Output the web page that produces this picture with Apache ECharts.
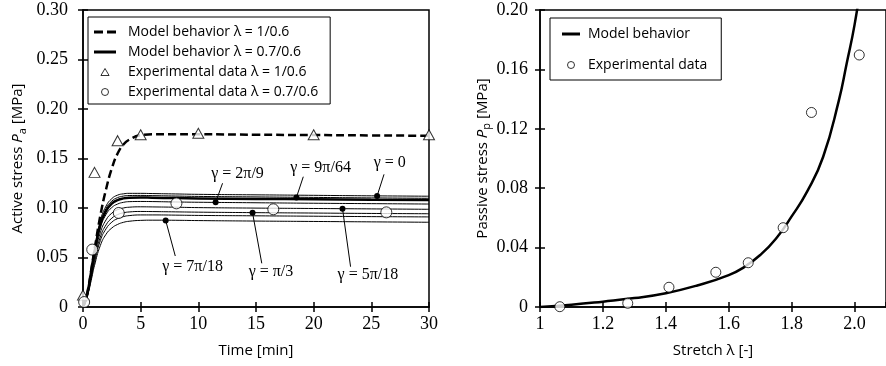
<!DOCTYPE html>
<html>
<head>
<meta charset="utf-8">
<script src="https://cdn.jsdelivr.net/npm/echarts@6/dist/echarts.min.js"></script>
<style>html,body{margin:0;padding:0;background:#fff;}</style>
</head>
<body>
<div id="main" style="width:886px;height:366px;"></div>
<script>
// ---- left panel: active stress vs time ----
var timeMin = [0, 0.25, 0.5, 0.75, 1, 1.5, 2, 2.5, 3, 3.5, 4, 5, 6, 8, 10, 15, 20, 25, 30];

var modelDashed = [0, 0.008, 0.022, 0.040, 0.058, 0.092, 0.119, 0.140, 0.155, 0.164, 0.169, 0.1735, 0.1745, 0.1745, 0.1745, 0.174, 0.1737, 0.1733, 0.173];

var curveGamma0    = [0, 0.008, 0.022, 0.040, 0.058, 0.087, 0.102, 0.1095, 0.113, 0.1143, 0.1148, 0.1148, 0.1146, 0.1142, 0.1138, 0.1133, 0.1128, 0.1123, 0.1119];
var curveGamma9    = [0, 0.008, 0.022, 0.040, 0.057, 0.085, 0.0995, 0.107, 0.1105, 0.112, 0.1126, 0.1127, 0.1125, 0.1121, 0.1117, 0.1112, 0.1107, 0.1102, 0.1098];
var curveModel07   = [0, 0.008, 0.021, 0.039, 0.056, 0.083, 0.097, 0.1045, 0.108, 0.1097, 0.1104, 0.1106, 0.1104, 0.110, 0.1097, 0.1092, 0.1088, 0.1084, 0.108];
var curveGamma2pi9 = [0, 0.007, 0.020, 0.037, 0.054, 0.080, 0.0935, 0.1005, 0.104, 0.1057, 0.1064, 0.1066, 0.1065, 0.1061, 0.1058, 0.1053, 0.1048, 0.1044, 0.104];
var curveGamma5pi18 = [0, 0.007, 0.019, 0.035, 0.051, 0.075, 0.088, 0.0948, 0.0983, 0.100, 0.1008, 0.1012, 0.1011, 0.1008, 0.1004, 0.0999, 0.0995, 0.0991, 0.0987];
var curveGammaPi3  = [0, 0.007, 0.018, 0.033, 0.048, 0.0705, 0.083, 0.0897, 0.0933, 0.0951, 0.096, 0.0965, 0.0964, 0.0961, 0.0958, 0.0953, 0.0949, 0.0945, 0.0942];
var curveExtra     = [0, 0.006, 0.017, 0.031, 0.045, 0.067, 0.079, 0.0857, 0.0893, 0.0913, 0.0923, 0.093, 0.093, 0.0928, 0.0925, 0.0921, 0.0917, 0.0913, 0.091];
var curveGamma7pi18 = [0, 0.006, 0.016, 0.029, 0.042, 0.062, 0.0735, 0.0798, 0.0834, 0.0855, 0.0866, 0.0875, 0.0877, 0.0876, 0.0873, 0.0868, 0.0864, 0.086, 0.0856];

var expTriangle = [[0, 0.012], [1, 0.136], [3, 0.168], [5, 0.174], [10, 0.1755], [20, 0.174], [30, 0.174]];
var expCircle = [[0.1, 0.005], [0.8, 0.058], [3.1, 0.095], [8.1, 0.1047], [16.5, 0.0987], [26.3, 0.0956]];

// gamma annotations: [dot t, dot value, leader end t, leader end value, label t, label value]
var gammaNotes = [
  [25.5, 0.1122, 26.1, 0.134, 26.6, 0.1455],
  [18.5, 0.1105, 19.1, 0.1316, 20.6, 0.1407],
  [11.5, 0.1057, 12.1, 0.125, 13.4, 0.135],
  [7.17, 0.0874, 8.0, 0.0515, 9.5, 0.0407],
  [14.7, 0.0952, 15.5, 0.0441, 16.3, 0.0357],
  [22.5, 0.0993, 23.2, 0.0407, 24.7, 0.0323]
];
var gammaLabels = ['γ = 0', 'γ = 9π/64', 'γ = 2π/9', 'γ = 7π/18', 'γ = π/3', 'γ = 5π/18'];

// ---- right panel: passive stress vs stretch ----
var stretch = [1, 1.1, 1.2, 1.3, 1.4, 1.5, 1.6, 1.65, 1.7, 1.75, 1.8, 1.85, 1.9, 1.95, 1.975, 2.0, 2.025];
var passiveModel = [0, 0.0015, 0.0036, 0.006, 0.0093, 0.0145, 0.0215, 0.027, 0.035, 0.046, 0.061, 0.078, 0.101, 0.139, 0.164, 0.19, 0.224];
var passiveExp = [[1.063, 0.0002], [1.279, 0.0025], [1.41, 0.0133], [1.559, 0.0234], [1.662, 0.0298], [1.773, 0.0534], [1.863, 0.131], [2.015, 0.1697]];

function pairs(xs, ys) {
  return xs.map(function (x, i) { return [x, ys[i]]; });
}

var serif = 'Liberation Serif';
var sans = 'Open Sans';
var black = '#000';

function valueAxis(o) {
  var a = {
    type: 'value',
    gridIndex: o.grid,
    min: o.min, max: o.max, interval: o.interval,
    splitLine: {show: false},
    axisLine: {show: true, onZero: false, lineStyle: {color: black, width: 1.5}},
    axisTick: {show: true, inside: false, length: 5, lineStyle: {color: black, width: 1.5}},
    axisLabel: {show: true, color: black, fontFamily: serif, fontSize: 18, margin: o.margin, formatter: o.fmt, showMaxLabel: o.showMax !== false},
    z: 5
  };
  if (o.inner) {
    a.axisLine = {show: false, onZero: false};
    a.axisTick = {show: true, inside: true, length: 5, lineStyle: {color: black, width: 1.5}};
    a.axisLabel = {show: false};
  }
  if (o.position) a.position = o.position;
  if (o.name) {
    a.name = o.name;
    a.nameLocation = 'middle';
    a.nameGap = o.nameGap;
    a.nameTextStyle = o.nameStyle;
  }
  return a;
}

function nameRich() {
  return {
    color: black,
    rich: {
      t: {fontFamily: sans, fontSize: 15, lineHeight: 20, color: black},
      p: {fontFamily: sans, fontSize: 15, fontStyle: 'italic', lineHeight: 20, color: black},
      s: {fontFamily: sans, fontSize: 11, lineHeight: 10, verticalAlign: 'bottom', color: black}
    }
  };
}

var fmtStress = function (v) { return v === 0 ? '0' : v.toFixed(2); };
var fmtStretch = function (v) { return Math.abs(v - 1) < 1e-9 ? '1' : v.toFixed(1); };

function thin(name, data) {
  return {
    name: name, type: 'line', xAxisIndex: 0, yAxisIndex: 0,
    data: pairs(timeMin, data), showSymbol: false, symbol: 'none', smooth: true,
    lineStyle: {color: black, width: 1}, z: 2, silent: true
  };
}

var openItem = {color: '#fff', borderColor: black, borderWidth: 1};
var solidItem = {color: black, borderWidth: 0};

var myChart = echarts.init(document.getElementById('main'));

var option = {
  animation: false,
  backgroundColor: '#fff',
  grid: [
    {left: 83, top: 10, width: 346, height: 297, show: true, borderColor: black, borderWidth: 1.5},
    {left: 540, top: 10, width: 348, height: 297, show: true, borderColor: black, borderWidth: 1.5}
  ],
  legend: [
    {
      orient: 'vertical', left: 88, top: 17,
      padding: [8, 12, 5, 6], itemGap: 6, itemWidth: 22, itemHeight: 7,
      borderColor: black, borderWidth: 1, backgroundColor: '#fff',
      textStyle: {fontFamily: sans, fontSize: 14, color: black, padding: [0, 0, 0, 7]},
      selectedMode: false,
      data: [
        {name: 'Model behavior λ = 1/0.6', icon: 'path://M0,0H9V3H0Z M13,0H22V3H13Z', itemStyle: solidItem},
        {name: 'Model behavior λ = 0.7/0.6', icon: 'path://M0,0H22V3H0Z', itemStyle: solidItem},
        {name: 'Experimental data λ = 1/0.6', icon: 'path://M3.5,0L7,6H0Z', itemStyle: openItem},
        {name: 'Experimental data λ = 0.7/0.6', icon: 'circle', itemStyle: openItem}
      ]
    },
    {
      orient: 'vertical', left: 550, top: 18,
      padding: [9, 14, 8, 12], itemGap: 17, itemWidth: 18, itemHeight: 7,
      borderColor: black, borderWidth: 1, backgroundColor: '#fff',
      textStyle: {fontFamily: sans, fontSize: 14, color: black, padding: [0, 0, 0, 3]},
      selectedMode: false,
      data: [
        {name: 'Model behavior', icon: 'path://M0,0H18V3H0Z', itemStyle: solidItem},
        {name: 'Experimental data', icon: 'circle', itemStyle: openItem}
      ]
    }
  ],
  xAxis: [
    valueAxis({grid: 0, min: 0, max: 30, interval: 5, margin: 8, name: 'Time [min]', nameGap: 36,
      nameStyle: {fontFamily: sans, fontSize: 15, color: black}}),
    valueAxis({grid: 0, min: 0, max: 30, interval: 5, inner: true, position: 'bottom'}),
    valueAxis({grid: 1, min: 1, max: 2.1, interval: 0.2, margin: 8, fmt: fmtStretch, showMax: false,
      name: 'Stretch λ [-]', nameGap: 36, nameStyle: {fontFamily: sans, fontSize: 15, color: black}}),
    valueAxis({grid: 1, min: 1, max: 2.1, interval: 0.2, inner: true, position: 'bottom'})
  ],
  yAxis: [
    valueAxis({grid: 0, min: 0, max: 0.3, interval: 0.05, margin: 15, fmt: fmtStress,
      name: '{t|Active stress }{p|P}{s|a}{t| [MPa]}', nameGap: 55, nameStyle: nameRich()}),
    valueAxis({grid: 0, min: 0, max: 0.3, interval: 0.05, inner: true, position: 'left'}),
    valueAxis({grid: 1, min: 0, max: 0.2, interval: 0.04, margin: 12, fmt: fmtStress,
      name: '{t|Passive stress }{p|P}{s|p}{t| [MPa]}', nameGap: 40, nameStyle: nameRich()}),
    valueAxis({grid: 1, min: 0, max: 0.2, interval: 0.04, inner: true, position: 'left'})
  ],
  series: [
    thin('γ = 0', curveGamma0),
    thin('γ = 9π/64', curveGamma9),
    thin('γ = 2π/9', curveGamma2pi9),
    thin('γ = 5π/18', curveGamma5pi18),
    thin('γ = π/3', curveGammaPi3),
    thin('other', curveExtra),
    thin('γ = 7π/18', curveGamma7pi18),
    {
      name: 'Model behavior λ = 0.7/0.6', type: 'line', xAxisIndex: 0, yAxisIndex: 0,
      data: pairs(timeMin, curveModel07), symbol: 'none', smooth: true,
      lineStyle: {color: black, width: 2.5}, z: 3
    },
    {
      name: 'Model behavior λ = 1/0.6', type: 'line', xAxisIndex: 0, yAxisIndex: 0,
      data: pairs(timeMin, modelDashed), symbol: 'none', smooth: true,
      lineStyle: {color: black, width: 2.5, type: [8, 4]}, z: 3
    },
    {
      name: 'γ labels', type: 'custom', xAxisIndex: 0, yAxisIndex: 0, z: 4, silent: true,
      data: gammaNotes,
      renderItem: function (params, api) {
        var d = api.coord([api.value(0), api.value(1)]);
        var e = api.coord([api.value(2), api.value(3)]);
        var l = api.coord([api.value(4), api.value(5)]);
        return {
          type: 'group',
          children: [
            {type: 'line', shape: {x1: d[0], y1: d[1], x2: e[0], y2: e[1]}, style: {stroke: black, lineWidth: 1}},
            {type: 'circle', shape: {cx: d[0], cy: d[1], r: 3}, style: {fill: black}},
            {type: 'text', x: l[0], y: l[1], style: {text: gammaLabels[params.dataIndex], fill: black,
              font: '16px "Liberation Serif"', align: 'center', verticalAlign: 'middle'}}
          ]
        };
      }
    },
    {
      name: 'Experimental data λ = 1/0.6', type: 'scatter', xAxisIndex: 0, yAxisIndex: 0,
      data: expTriangle, symbol: 'triangle', symbolSize: [11, 10],
      itemStyle: openItem, z: 6
    },
    {
      name: 'Experimental data λ = 0.7/0.6', type: 'scatter', xAxisIndex: 0, yAxisIndex: 0,
      data: expCircle, symbol: 'circle', symbolSize: 11,
      itemStyle: openItem, z: 6
    },
    {
      name: 'Model behavior', type: 'line', xAxisIndex: 2, yAxisIndex: 2,
      data: pairs(stretch, passiveModel), symbol: 'none', smooth: true,
      lineStyle: {color: black, width: 2.5}, z: 3
    },
    {
      name: 'Experimental data', type: 'scatter', xAxisIndex: 2, yAxisIndex: 2,
      data: passiveExp, symbol: 'circle', symbolSize: 10,
      itemStyle: openItem, z: 6
    }
  ]
};

myChart.setOption(option);
</script>
</body>
</html>
